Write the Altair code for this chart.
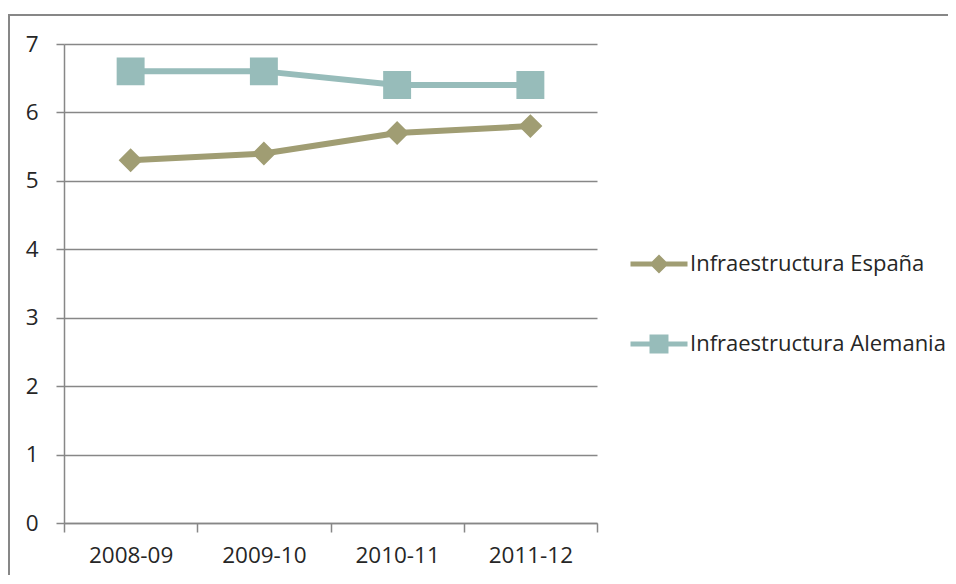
import altair as alt
import pandas as pd

periods = ["2008-09", "2009-10", "2010-11", "2011-12"]
espana = [5.3, 5.4, 5.7, 5.8]
alemania = [6.6, 6.6, 6.4, 6.4]
series_names = ["Infraestructura España", "Infraestructura Alemania"]
series_colors = ["#A09D73", "#97BCBA"]
y_ticks = [0, 1, 2, 3, 4, 5, 6, 7]

rows = []
for p, v in zip(periods, espana):
    rows.append({"periodo": p, "valor": v, "serie": series_names[0]})
for p, v in zip(periods, alemania):
    rows.append({"periodo": p, "valor": v, "serie": series_names[1]})
df = pd.DataFrame(rows)

diamond = "M-1,0L1,0M0,-0.21L0.21,0L0,0.21L-0.21,0Z"
square = "M-1,0L1,0M-0.245,-0.245L0.245,-0.245L0.245,0.245L-0.245,0.245Z"

FONT = "Open Sans"
TXT = "#262626"
GRID = "#878787"

leg = alt.Legend(
    title=None, orient="none", legendX=564, legendY=189,
    symbolSize=3249, symbolStrokeWidth=5, rowPadding=33, labelOffset=0,
    labelFont=FONT, labelFontSize=22, labelColor=TXT, labelLimit=400,
)

x_enc = alt.X(
    "periodo:N", sort=periods, bandPosition=0.5,
    scale=alt.Scale(type="band", paddingInner=0, paddingOuter=0),
    axis=alt.Axis(title=None, labelAngle=0, tickBand="extent", tickSize=9,
                  labelPadding=12, grid=False),
)
y_enc = alt.Y(
    "valor:Q", scale=alt.Scale(domain=[0, 7], nice=False, zero=True),
    axis=alt.Axis(title=None, values=y_ticks, format="d", tickSize=8,
                  labelPadding=18, grid=True),
)

color_scale = alt.Scale(domain=series_names, range=series_colors)

lines = alt.Chart(df).mark_line(strokeWidth=6, strokeJoin="round").encode(
    x=x_enc, y=y_enc,
    color=alt.Color("serie:N", scale=color_scale, legend=leg),
    detail="serie:N",
)

points = alt.Chart(df).mark_point(filled=True, opacity=1).encode(
    x=x_enc, y=y_enc,
    color=alt.Color("serie:N", scale=color_scale, legend=leg),
    shape=alt.Shape("serie:N", scale=alt.Scale(domain=series_names, range=[diamond, square]), legend=leg),
    size=alt.value(12996),
    strokeWidth=alt.value(0),
)

frame = pd.DataFrame({"k": [0]})
border_left = alt.Chart(frame).mark_rect(color=GRID).encode(
    x=alt.value(-56), x2=alt.value(-54), y=alt.value(-30), y2=alt.value(531)
)
border_top = alt.Chart(frame).mark_rect(color=GRID).encode(
    x=alt.value(-56), x2=alt.value(884), y=alt.value(-30), y2=alt.value(-28)
)

chart = alt.layer(border_left, border_top, lines, points).properties(
    width=533, height=479,
    padding={"left": 56, "top": 36, "right": 351, "bottom": 53},
    autosize=alt.AutoSizeParams(type="none"),
).configure_view(strokeWidth=0).configure_axis(
    domainColor=GRID, domainWidth=1.5, tickColor=GRID, tickWidth=1.5,
    gridColor=GRID, gridWidth=1.5, labelFont=FONT, labelFontSize=22.5,
    labelColor=TXT,
)

chart.save("out.html", embed_options={"renderer": "svg", "actions": False})
